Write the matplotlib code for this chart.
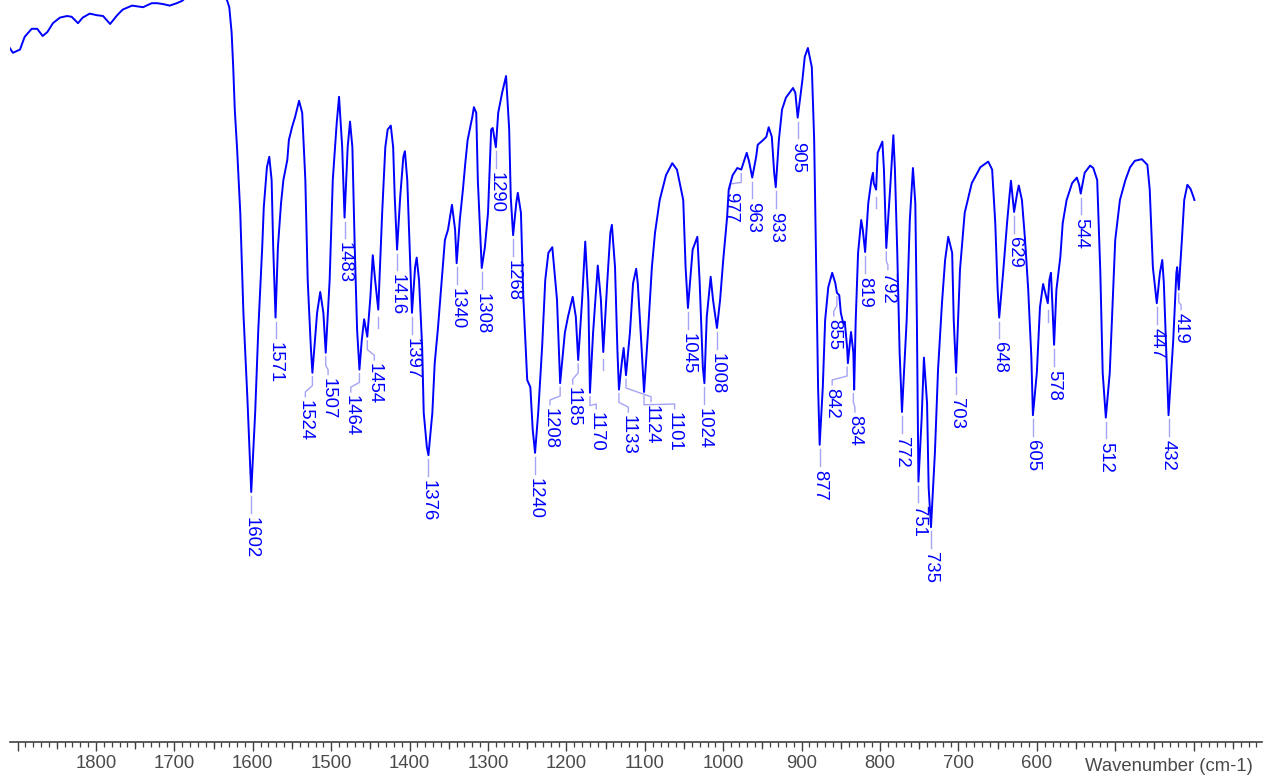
import numpy as np
import matplotlib
matplotlib.use('Agg')
import matplotlib.pyplot as plt
from matplotlib.ticker import FixedLocator, MultipleLocator

plt.rcParams['font.family'] = ['Liberation Sans', 'DejaVu Sans']

# IR spectrum: wavenumber (cm-1) and transmittance (%)
wavenumber = [
    1910, 1906, 1897, 1891, 1882, 1875, 1868, 1862, 1855, 1846,
    1837, 1831, 1823, 1817, 1808, 1799, 1791, 1782, 1773, 1766,
    1754, 1740, 1729, 1722, 1715, 1706, 1697, 1690,
    1678, 1661, 1644, 1633, 1630, 1627, 1625, 1623, 1620, 1616, 1612, 1607,
    1602, 1597, 1593, 1588, 1586, 1582, 1579, 1576, 1574, 1571,
    1568, 1564, 1561, 1556, 1554, 1550, 1546, 1541, 1537, 1533,
    1530, 1526, 1524, 1518, 1514, 1510, 1507, 1502, 1498, 1493,
    1490, 1486, 1483, 1479, 1476, 1473, 1470, 1467, 1464, 1461,
    1458, 1454, 1450, 1447, 1444, 1440, 1435, 1431, 1428, 1424,
    1421, 1419, 1416, 1412, 1408, 1406, 1403, 1400, 1397, 1393,
    1391, 1388, 1384, 1382, 1378, 1376, 1371, 1368, 1364, 1359,
    1355, 1351, 1346, 1342, 1340, 1336, 1332, 1329, 1326, 1320,
    1318, 1315, 1313, 1308, 1304, 1300, 1296, 1294, 1290, 1287,
    1282, 1277, 1273, 1271, 1268, 1264, 1262, 1258, 1255, 1250,
    1246, 1243, 1240, 1236, 1231, 1227, 1223, 1218, 1212, 1208,
    1202, 1198, 1192, 1188, 1185, 1180, 1176, 1172, 1170, 1166,
    1160, 1156, 1153, 1148, 1144, 1142, 1138, 1135, 1133, 1129,
    1127, 1124, 1119, 1115, 1111, 1109, 1104, 1101, 1096, 1091,
    1087, 1081, 1073, 1065, 1059, 1051, 1048, 1045, 1039, 1033,
    1030, 1026, 1024, 1021, 1016, 1013, 1008, 1004, 1000, 995,
    993, 988, 982, 977, 973, 970, 967, 963, 958, 956,
    949, 945, 942, 938, 935, 933, 929, 925, 920, 911,
    908, 905, 899, 896, 892, 887, 884, 882, 879, 877,
    873, 870, 866, 861, 857, 855, 852, 850, 847, 845,
    842, 841, 838, 837, 834, 833, 831, 828, 824, 822,
    819, 815, 811, 809, 808, 805, 803, 797, 795, 792,
    787, 783, 781, 778, 775, 772, 766, 762, 758, 755,
    753, 751, 747, 744, 740, 738, 735, 730, 726, 721,
    717, 713, 708, 706, 703, 698, 692, 683, 672, 662,
    657, 653, 650, 648, 643, 638, 635, 633, 631, 629,
    625, 623, 619, 615, 611, 607, 605, 600, 596, 592,
    588, 586, 584, 582, 580, 578, 575, 570, 567, 562,
    555, 549, 546, 544, 539, 532, 528, 523, 519, 516,
    512, 507, 500, 494, 487, 481, 475, 466, 459, 456,
    452, 447, 443, 440, 438, 434, 432, 426, 422, 421,
    419, 415, 412, 408, 404, 401, 399,
]
transmittance = [
    94.0, 93.4, 93.8, 95.4, 96.4, 96.4, 95.5, 96.0, 97.1, 97.8,
    98.0, 97.9, 97.1, 97.8, 98.3, 98.1, 98.0, 97.0, 98.1, 98.8,
    99.3, 99.1, 99.6, 99.6, 99.5, 99.3, 99.6, 99.9,
    101.0, 101.8, 101.3, 100.0, 99.1, 95.9, 91.6, 86.3, 81.3, 73.4, 60.9, 50.4,
    38.5, 48.4, 58.8, 69.1, 74.1, 79.1, 80.4, 77.5, 69.1, 60.3,
    69.1, 74.6, 77.5, 80.0, 82.5, 84.1, 85.4, 87.4, 85.9, 77.5,
    65.0, 56.6, 53.4, 60.9, 63.5, 60.9, 55.9, 65.0, 77.5, 84.6,
    87.9, 81.6, 72.8, 81.6, 84.8, 81.6, 69.1, 58.8, 53.8, 57.5,
    60.1, 57.9, 62.9, 68.1, 65.0, 61.3, 73.4, 81.6, 83.8, 84.3,
    81.6, 75.4, 68.8, 75.4, 80.4, 81.1, 77.5, 69.1, 60.9, 66.6,
    67.8, 65.0, 56.6, 48.4, 44.1, 43.1, 48.4, 54.6, 58.8, 65.0,
    70.0, 71.3, 74.4, 71.3, 67.1, 72.5, 76.3, 79.6, 82.5, 85.4,
    86.6, 85.9, 77.5, 66.5, 69.1, 73.4, 83.8, 84.0, 81.6, 85.9,
    88.4, 90.5, 83.8, 75.4, 70.6, 74.6, 75.9, 73.4, 62.9, 52.5,
    51.6, 46.3, 43.4, 48.4, 56.6, 65.0, 68.4, 69.1, 62.5, 52.1,
    58.4, 60.4, 62.9, 60.4, 55.0, 62.5, 69.8, 62.5, 50.9, 58.4,
    66.8, 62.5, 56.0, 64.6, 70.9, 71.9, 66.6, 56.3, 51.3, 55.0,
    56.5, 53.1, 58.4, 64.6, 66.4, 64.6, 56.3, 51.0, 58.4, 66.6,
    70.9, 75.0, 78.1, 79.6, 78.8, 75.0, 66.6, 61.5, 68.8, 70.4,
    64.6, 54.1, 52.1, 60.4, 65.4, 62.5, 59.0, 62.5, 67.5, 72.9,
    76.3, 78.1, 79.0, 78.8, 80.0, 80.9, 79.8, 77.8, 80.4, 81.9,
    82.5, 82.9, 84.1, 82.9, 78.4, 76.6, 82.5, 86.3, 87.8, 89.0,
    88.4, 85.3, 90.0, 92.9, 94.0, 91.6, 82.5, 70.0, 51.6, 44.4,
    51.6, 60.0, 64.1, 65.9, 64.6, 63.4, 63.1, 60.9, 59.6, 59.8,
    56.6, 54.6, 57.5, 58.5, 55.9, 51.3, 60.0, 68.4, 72.5, 71.3,
    68.5, 74.6, 77.5, 78.4, 77.1, 76.3, 80.9, 82.3, 78.8, 69.0,
    76.6, 83.1, 78.8, 68.4, 55.9, 48.5, 60.0, 72.5, 79.0, 74.6,
    60.0, 39.8, 47.5, 55.3, 49.6, 39.1, 34.1, 43.4, 53.8, 62.1,
    67.5, 70.4, 68.4, 60.0, 53.4, 66.3, 73.4, 77.1, 79.1, 79.8,
    78.8, 72.1, 63.8, 60.3, 65.9, 72.1, 75.4, 77.4, 75.4, 73.5,
    75.9, 76.8, 75.0, 70.0, 63.8, 55.4, 48.1, 53.4, 61.6, 64.5,
    62.9, 62.1, 65.0, 65.9, 61.6, 56.9, 63.8, 67.9, 72.1, 75.0,
    77.1, 77.8, 76.9, 75.8, 78.4, 79.3, 79.0, 77.5, 65.9, 53.4,
    47.8, 53.4, 70.0, 75.0, 77.5, 79.1, 79.9, 80.1, 79.4, 76.3,
    66.6, 62.1, 65.9, 67.5, 64.6, 53.4, 48.1, 57.5, 65.9, 66.6,
    63.8, 70.0, 75.0, 76.9, 76.4, 75.6, 75.0,
]

# labelled peaks
peaks = [1602, 1571, 1524, 1507, 1483, 1464, 1454, 1416, 1397, 1376, 1340, 1308,
         1290, 1268, 1240, 1208, 1185, 1170, 1133, 1124, 1101, 1045, 1024, 1008,
         977, 963, 933, 905, 877, 855, 842, 834, 819, 792, 772, 751, 735, 703,
         648, 629, 605, 578, 544, 512, 447, 432, 419]
# picked peaks without a number
unlabelled = [1440, 1153, 805, 586]

# labels moved away from their peak: (text x in cm-1, top of text in %T)
moved = {
    1524: (1533, 50.0), 1507: (1504, 52.8), 1464: (1475, 50.6), 1454: (1445, 54.6),
    1208: (1221, 49.0), 1185: (1192, 51.6), 1170: (1162, 48.5), 1133: (1121, 48.1),
    1124: (1092, 49.4), 1101: (1062, 48.5), 977: (991, 76.0), 855: (859, 60.1),
    842: (861, 51.5), 834: (832, 48.1), 792: (790, 65.9), 419: (416, 60.9),
}

blue = '#0000ff'
lead = '#a4a4f4'

wn = np.array(wavenumber, dtype=float)
tr = np.array(transmittance, dtype=float)

fig = plt.figure(figsize=(12.76, 7.79), dpi=100)
ax = fig.add_axes([10 / 1276, 37 / 779, 1252 / 1276, 742 / 779])
ax.plot(wn, tr, color=blue, lw=1.4, zorder=2)


def peak_depth(p):
    sel = np.abs(wn - p) <= 2
    return tr[sel].min()


for p in peaks:
    y = peak_depth(p)
    if p in moved:
        tx, ty = moved[p]
        ax.plot([p, p, tx, tx], [y - 0.5, y - 1.6, ty + 1.0, ty + 0.4],
                color=lead, lw=1.0, zorder=1)
    else:
        tx, ty = p, y - 3.1
        ax.plot([p, p], [y - 0.5, y - 2.6], color=lead, lw=1.0, zorder=1)
    ax.text(tx, ty, str(p), rotation=270, ha='center', va='top',
            color=blue, fontsize=13.3, zorder=3)

for p in unlabelled:
    y = peak_depth(p)
    ax.plot([p, p], [y - 0.9, y - 2.3], color=lead, lw=1.0, zorder=1)

ax.set_xlim(1909.7, 312.8)
ax.set_ylim(7.25, 100)

for s in ['top', 'left', 'right']:
    ax.spines[s].set_visible(False)
ax.spines['bottom'].set_color('#404040')
ax.spines['bottom'].set_linewidth(1.2)
ax.set_yticks([])

majors = list(range(1900, 399, -100))
ax.xaxis.set_major_locator(FixedLocator(majors))
ax.set_xticklabels(['' if m in (1900, 500, 400) else str(m) for m in majors])
ax.xaxis.set_minor_locator(MultipleLocator(10))
ax.tick_params(axis='x', which='major', length=6.5, width=1.0, color='#404040',
               labelsize=13.3, labelcolor='#4a4a4a', pad=2.5)
ax.tick_params(axis='x', which='minor', length=3.6, width=0.9, color='#404040')
# half-way ticks a bit longer
halves = list(range(1850, 349, -100))
ax.vlines(halves, 0, -6.5 / 742, transform=ax.get_xaxis_transform(),
          color='#404040', lw=0.9, clip_on=False)

fig.text(1085 / 1276, 8 / 779, 'Wavenumber (cm-1)', ha='left', va='baseline',
         fontsize=13.3, color='#4a4a4a')

fig.savefig('out.png', dpi=100)
